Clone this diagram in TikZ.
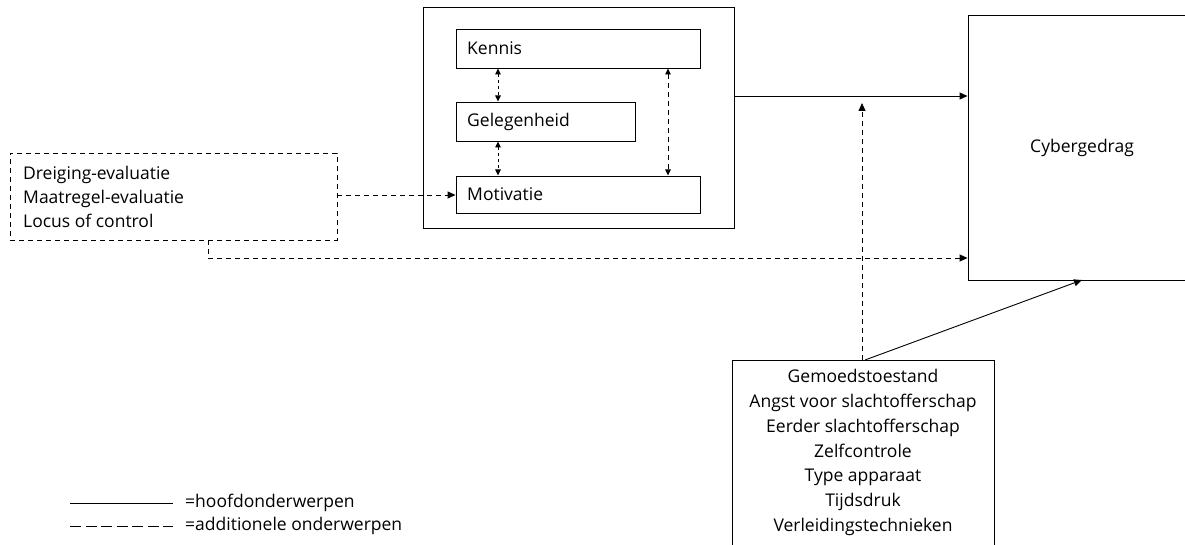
\documentclass[tikz,border=0pt]{standalone}
\usepackage{fontspec}
\setmainfont{Open Sans}
\usetikzlibrary{arrows.meta,positioning,calc}
\begin{document}
\begin{tikzpicture}[x=1pt,y=-1pt,
  box/.style={draw,line width=0.9pt,inner sep=0pt},
  tip/.style={line width=0.9pt,-{Triangle[length=8pt,width=7pt]}},
  dtip/.style={line width=0.9pt,{Triangle[length=6pt,width=5.5pt]}-{Triangle[length=6pt,width=5.5pt]}},
  dsh/.style={line width=0.9pt,dash pattern=on 5pt off 4pt},
  lbl/.style={font=\fontsize{17.5}{20}\selectfont,inner sep=0pt}]
\useasboundingbox (0,0) rectangle (1185,545);
\clip (0,0) rectangle (1185,545);
% outer box
\node[box,minimum width=311pt,minimum height=221pt] (outer) at (578.5,118) {};
\node[box,minimum width=244pt,minimum height=39pt] (kennis) at (578,48.5) {};
\node[lbl,anchor=west] at (467,48.5) {Kennis};
\node[box,minimum width=179pt,minimum height=39pt] (gel) at (545.5,121.5) {};
\node[lbl,anchor=west] at (467,121.5) {Gelegenheid};
\node[box,minimum width=244pt,minimum height=37pt] (mot) at (578,194.5) {};
\node[lbl,anchor=west] at (467,194.5) {Motivatie};
\draw[dtip,dash pattern=on 3pt off 3pt] (498,68.5) -- (498,101.5);
\draw[dtip,dash pattern=on 3pt off 3pt] (498,141.5) -- (498,175.5);
\draw[dtip,dsh] (668,68.5) -- (668,175.5);
% left dashed box
\node[draw,dsh,minimum width=327pt,minimum height=87pt,inner sep=0pt] (left) at (173.5,196.5) {};
\node[lbl,anchor=west,align=left,font=\fontsize{17.5}{24.3}\selectfont] at (23,197) {Dreiging-evaluatie\\Maatregel-evaluatie\\Locus of control};
\draw[dsh,tip] (left.east |- 0,195) -- (mot.west |- 0,195);
% Cybergedrag
\node[box,minimum width=240pt,minimum height=265pt] (cyber) at (1088,147.5) {};
\node[lbl] at (1082,148) {Cybergedrag};
\draw[tip] (outer.east |- 0,96) -- (cyber.west |- 0,96);
\coordinate (c1) at (208,240);
\draw[dsh,tip] (c1) -- (208,258) -- (cyber.west |- 0,258);
% bottom box
\node[box,minimum width=262pt,minimum height=220pt] (bot) at (863,470) {};
\node[lbl,align=center,font=\fontsize{17.5}{24.8}\selectfont] at (863,452.5) {Gemoedstoestand\\Angst voor slachtofferschap\\Eerder slachtofferschap\\Zelfcontrole\\Type apparaat\\Tijdsdruk\\Verleidingstechnieken};
\draw[dsh,tip] (862,360) -- (862,103);
\draw[tip] (865,360) -- (1082,280);
% legend
\coordinate (l1) at (70,503);
\coordinate (l2) at (173,503);
\draw[line width=0.9pt] (l1) -- (l2);
\node[lbl,anchor=west] at (185,503) {=hoofdonderwerpen};
\coordinate (l3) at (70,526);
\coordinate (l4) at (173,526);
\draw[line width=0.9pt,dash pattern=on 11pt off 4.5pt] (l3) -- (l4);
\node[lbl,anchor=west] at (185,526) {=additionele onderwerpen};
\end{tikzpicture}
\end{document}
